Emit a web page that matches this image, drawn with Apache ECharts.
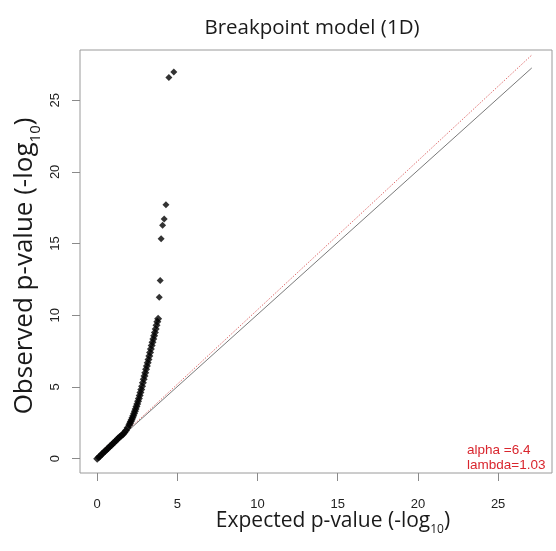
<!DOCTYPE html>
<html>
<head>
<meta charset="utf-8">
<script src="https://cdn.jsdelivr.net/npm/echarts@6/dist/echarts.min.js"></script>
<style>html,body{margin:0;padding:0;background:#fff}#c{width:556px;height:551px}</style>
</head>
<body>
<div id="c"></div>
<script>
// Tick labels
const xTicks = [0, 5, 10, 15, 20, 25];
const yTicks = [0, 5, 10, 15, 20, 25];

// Dense part of the QQ curve (expected, observed -log10 p)
const denseExpected = [0.0,0.1,0.2,0.3,0.4,0.5,0.6,0.7,0.8,0.9,1.0,1.1,1.2,1.3,1.4,1.5,1.6,1.7,1.8,1.9,2.0,
  2.05,2.1,2.15,2.2,2.25,2.3,2.35,2.4,2.45,2.5,2.55,2.6,2.65,2.7,2.75,2.8,2.85,2.9,2.95,3.0,
  3.05,3.1,3.15,3.2,3.25,3.3,3.35,3.4,3.45,3.5,3.55,3.6,3.65,3.7,3.75,3.8];
const denseObserved = [0.0,0.1,0.21,0.32,0.43,0.53,0.64,0.75,0.86,0.96,1.07,1.18,1.29,1.4,1.51,1.6,1.69,1.82,1.97,2.15,2.35,
  2.47,2.59,2.72,2.85,3.0,3.15,3.31,3.47,3.64,3.82,4.01,4.2,4.4,4.61,4.83,5.05,5.3,5.54,5.77,6.0,
  6.23,6.46,6.69,6.92,7.16,7.4,7.65,7.9,8.12,8.35,8.58,8.8,9.05,9.3,9.55,9.75];

// Top hits
const topExpected = [3.87, 3.93, 3.99, 4.08, 4.18, 4.29, 4.47, 4.78];
const topObserved = [11.25, 12.43, 15.34, 16.27, 16.71, 17.71, 26.59, 26.96];

// Reference lines
const identityX = [0, 27.1];
const identityY = [0, 27.25];
const lambdaX = [0, 27.1];
const lambdaY = [0, 28.15];

const annotations = ['alpha =6.4', 'lambda=1.03'];
const xTitle = '{n|Expected p-value (-log}{s|10}{n|)}';
const yTitle = '{n|Observed p-value (-log}{s|10}{n|)}';

const zip = (a, b) => a.map((v, i) => [v, b[i]]);

const chart = echarts.init(document.getElementById('c'), null, {renderer: 'canvas'});
const labelFont = 'Liberation Sans, Arial, sans-serif';
const titleFont = 'Open Sans, Noto Sans, sans-serif';

function titleRich(big, small, lh) {
  return {
    n: {fontFamily: titleFont, fontSize: big, fill: '#1a1a1a', color: '#1a1a1a', lineHeight: lh, verticalAlign: 'middle'},
    s: {fontFamily: titleFont, fontSize: small, fill: '#1a1a1a', color: '#1a1a1a', lineHeight: small, verticalAlign: 'bottom'}
  };
}

chart.setOption({
  animation: false,
  backgroundColor: '#fff',
  title: {
    text: 'Breakpoint model (1D)',
    left: 307, top: 13, textAlign: 'center',
    textStyle: {fontFamily: titleFont, fontSize: 20.5, fontWeight: 'normal', color: '#1a1a1a'}
  },
  grid: {left: 80, right: 4, top: 50, bottom: 78, show: true, borderColor: '#9a9a9a', borderWidth: 1, backgroundColor: 'transparent'},
  xAxis: {
    type: 'value', min: -1.07, max: 28.36,
    splitLine: {show: false},
    axisLine: {show: false, onZero: false},
    axisTick: {show: true, length: 8, lineStyle: {color: '#8a8a8a'}, customValues: xTicks},
    axisLabel: {customValues: xTicks, margin: 25, fontFamily: labelFont, fontSize: 13, color: '#222'}
  },
  yAxis: {
    type: 'value', min: -1.0, max: 28.5,
    splitLine: {show: false},
    axisLine: {show: false, onZero: false},
    axisTick: {show: true, length: 8, lineStyle: {color: '#8a8a8a'}, customValues: yTicks},
    axisLabel: {customValues: yTicks, margin: 18, rotate: 90, fontFamily: labelFont, fontSize: 13, color: '#222'}
  },
  series: [
    {type: 'line', data: zip(lambdaX, lambdaY), showSymbol: false, symbol: 'none',
     lineStyle: {color: '#e07070', width: 1, type: [1.5, 1.5]}, z: 1},
    {type: 'line', data: zip(identityX, identityY), showSymbol: false, symbol: 'none',
     lineStyle: {color: '#7a7a7a', width: 1}, z: 1},
    {type: 'scatter', data: zip(denseExpected, denseObserved), symbol: 'diamond', symbolSize: 8,
     itemStyle: {color: '#000'}, z: 3},
    {type: 'scatter', data: zip(topExpected, topObserved), symbol: 'diamond', symbolSize: 7,
     itemStyle: {color: '#000'}, z: 3}
  ],
  graphic: [
    {type: 'text', x: 333, y: 521, style: {text: xTitle, rich: titleRich(21, 12, 30), align: 'center', verticalAlign: 'middle'}},
    {type: 'text', x: 25, y: 266, rotation: Math.PI / 2, style: {text: yTitle, rich: titleRich(26, 15, 36), align: 'center', verticalAlign: 'middle'}},
    {type: 'text', left: 467, top: 443, style: {text: annotations[0], fill: '#d9262e', font: '13.5px ' + labelFont}},
    {type: 'text', left: 467, top: 458, style: {text: annotations[1], fill: '#d9262e', font: '13.5px ' + labelFont}}
  ]
});
</script>
</body>
</html>
